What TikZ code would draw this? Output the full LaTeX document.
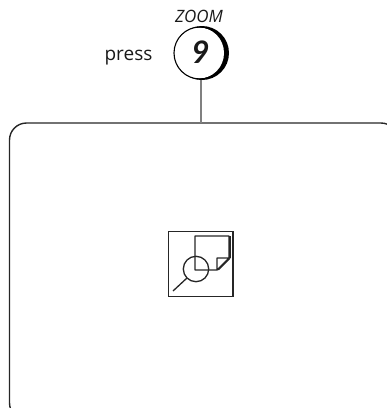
\documentclass[tikz,border=0pt]{standalone}
\usepackage{fontspec}
\setmainfont{Open Sans}
\newfontfamily\digitfont{Lato}
\tikzset{
  panelbox/.style={draw=black!85,line width=1.4pt,rounded corners=17pt},
  iconline/.style={draw=black!85,line width=1.3pt},
  btn/.style={circle,draw=black,line width=1.1pt,minimum size=52pt,inner sep=0pt},
  lbl/.style={inner sep=0pt,text=black!90}
}
\begin{document}
\begin{tikzpicture}[x=1pt,y=-1pt]
\useasboundingbox (0,0) rectangle (387,408);
\begin{scope}
\clip (0,0) rectangle (387,408);
\draw[panelbox] (9.5,123) rectangle (398,420);
\end{scope}
\coordinate (panelTop) at (201,123);
\fill[black] (202,53) circle[radius=27];
\fill[white] (199,53) ellipse[x radius=25,y radius=25.5];
\node[btn] (button) at (200,53) {};
\node[lbl,font=\digitfont\fontsize{31}{31}\selectfont\bfseries\itshape] (nine) at (200.5,52.5) {9};
\node[lbl,font=\fontsize{17}{17}\selectfont\itshape] (zoom) at (199,16) {ZOOM};
\node[lbl,font=\fontsize{19}{19}\selectfont,anchor=base] (press) at (128.5,60) {press};
\draw[black!50,line width=1.6pt] (button.south) ++(1,0) -- (panelTop);
% icon
\draw[iconline,line width=1.4pt] (168.7,231.5) rectangle (233,296.5);
\draw[iconline,line join=round] (217,270) -- (195,270) -- (195,236) -- (229,236) -- (229,258) -- (217,270) -- (217,258) -- (229,258);
\fill[black!85] (229,258) -- (230.5,258) -- (230.5,236) -- (229,236) -- cycle;
\fill[black!85] (217,270) -- (219,270) -- (230.5,258.5) -- (229,258) -- cycle;
\coordinate (lens) at (196,269);
\draw[iconline] (lens) circle[radius=12.7];
\draw[iconline] (187,278) -- (173,291);
\end{tikzpicture}
\end{document}
